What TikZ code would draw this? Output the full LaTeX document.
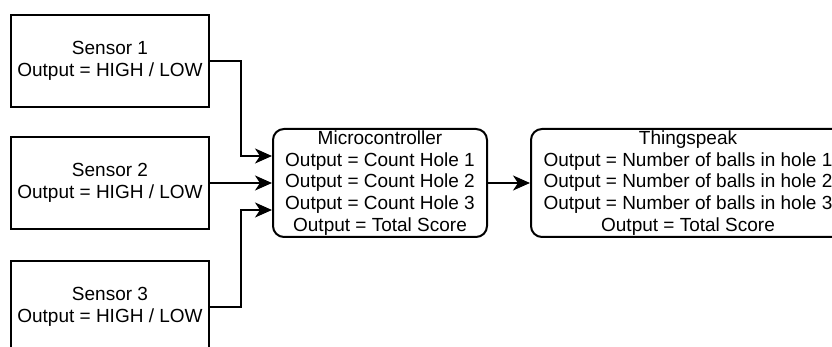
\documentclass[tikz,border=0pt]{standalone}
\usepackage{fontspec}
\setmainfont{Liberation Sans}
\usetikzlibrary{arrows.meta}
\begin{document}
\begin{tikzpicture}[x=1pt,y=-1pt,
  box/.style={draw=black, line width=2pt, fill=white, inner sep=0pt, align=center,
    font=\fontsize{19}{21.6}\selectfont, text=black},
  sensorbox/.style={box, minimum width=198pt, minimum height=92pt},
  procbox/.style={box, rounded corners=11pt, minimum height=108pt},
  conn/.style={draw=black, line width=2pt, -{Stealth[length=17pt,width=15pt,inset=5pt]}}]
\useasboundingbox (0,0) rectangle (832,347);
\fill[white] (0,0) rectangle (832,347);
\clip (0,0) rectangle (832,347);
\node[sensorbox] (s1) at (110,61) {Sensor 1\\Output = HIGH / LOW};
\node[sensorbox] (s2) at (110,183) {Sensor 2\\Output = HIGH / LOW};
\node[sensorbox] (s3) at (110,307) {Sensor 3\\Output = HIGH / LOW};
\node[procbox, minimum width=214pt] (micro) at (380,183) {Microcontroller\\Output = Count Hole 1\\Output = Count Hole 2\\Output = Count Hole 3\\Output = Total Score};
\node[procbox, minimum width=314pt] (thing) at (688,183) {Thingspeak\\Output = Number of balls in hole 1\\Output = Number of balls in hole 2\\Output = Number of balls in hole 3\\Output = Total Score};
\draw[conn] (s1.east) -- ++(31,0) |- ([yshift=27pt]micro.west);
\draw[conn] (s2.east) -- (micro.west);
\draw[conn] (s3.east) -- ++(31,0) |- ([yshift=-27pt]micro.west);
\draw[conn] (micro.east) -- (thing.west);
\end{tikzpicture}
\end{document}
